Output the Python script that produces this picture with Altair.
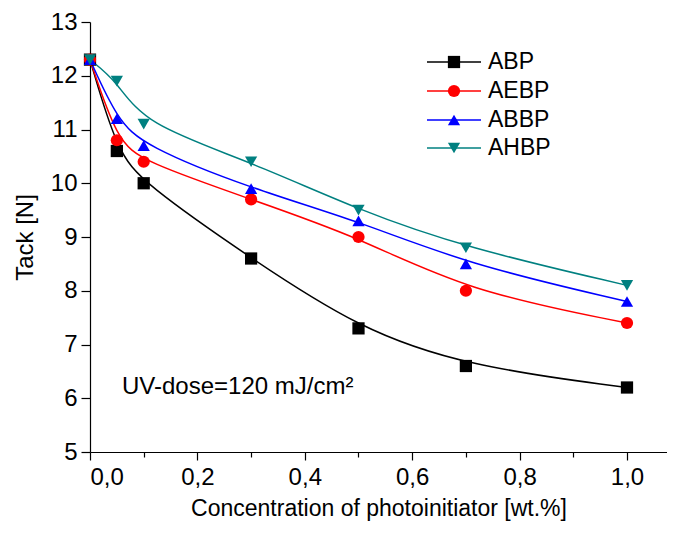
import altair as alt
import pandas as pd

# ---- data ----
conc = [0.0, 0.05, 0.1, 0.3, 0.5, 0.7, 1.0]
series_names = ["ABP", "AEBP", "ABBP", "AHBP"]
abp = [12.3, 10.6, 10.0, 8.6, 7.3, 6.6, 6.2]
aebp = [12.3, 10.8, 10.4, 9.7, 9.0, 8.0, 7.4]
abbp = [12.3, 11.2, 10.7, 9.9, 9.3, 8.5, 7.8]
ahbp = [12.3, 11.9, 11.1, 10.4, 9.5, 8.8, 8.1]
colors = ["#000000", "#ff0000", "#0000ff", "#008080"]
shapes = ["square", "circle", "triangle-up", "triangle-down"]
y_ticks = [5 + 0.5 * i for i in range(17)]
x_ticks = [round(0.1 * i, 1) for i in range(11)]
annotation = ["UV-dose=120 mJ/cm²"]

values = [abp, aebp, abbp, ahbp]
rows = []
for name, vals in zip(series_names, values):
    for c, v in zip(conc, vals):
        rows.append({"series": name, "conc": c, "tack": v})
df = pd.DataFrame(rows)

FONT = "Liberation Sans"
W, H = 577, 430

xscale = alt.Scale(domain=[0, 1.0745], nice=False, zero=False)
yscale = alt.Scale(domain=[5, 13], nice=False, zero=False)
cscale = alt.Scale(domain=series_names, range=colors)
sscale = alt.Scale(domain=series_names, range=shapes)

xaxis = alt.Axis(
    values=x_ticks,
    labelExpr="round(datum.value*10) % 2 === 0 ? replace(format(datum.value, '.1f'), '.', ',') : ''",
    tickSize={"condition": {"test": "round(datum.value*10) % 2 === 0", "value": 8}, "value": 5},
    grid=False, labelFontSize=24, titleFontSize=23, labelPadding=5, titlePadding=8,
    title="Concentration of photoinitiator [wt.%]",
)
yaxis = alt.Axis(
    values=y_ticks,
    labelExpr="datum.value % 1 === 0 ? format(datum.value, 'd') : ''",
    tickSize={"condition": {"test": "datum.value % 1 === 0", "value": 9}, "value": 5},
    grid=False, labelFontSize=24, titleFontSize=24, labelPadding=4, titlePadding=13,
    title="Tack [N]",
)

base = alt.Chart(df)
lines = base.mark_line(interpolate="basis", strokeWidth=1.5).encode(
    x=alt.X("conc:Q", scale=xscale, axis=xaxis),
    y=alt.Y("tack:Q", scale=yscale, axis=yaxis),
    color=alt.Color("series:N", scale=cscale, legend=None),
    detail="series:N",
)
points = base.mark_point(filled=True, opacity=1, size=150).encode(
    x=alt.X("conc:Q", scale=xscale),
    y=alt.Y("tack:Q", scale=yscale),
    color=alt.Color("series:N", scale=cscale, legend=None),
    shape=alt.Shape("series:N", scale=sscale, legend=None),
)

layers = [lines, points]

# manual legend (line + symbol + label)
leg_y = [40, 69, 98, 126]
for i, name in enumerate(series_names):
    d = pd.DataFrame({"name": [name]})
    c = alt.Chart(d)
    layers.append(c.mark_rule(strokeWidth=1.5).encode(
        x=alt.value(337), x2=alt.value(391), y=alt.value(leg_y[i]),
        color=alt.value(colors[i])))
    layers.append(c.mark_point(filled=True, opacity=1, size=150).encode(
        x=alt.value(364), y=alt.value(leg_y[i]),
        shape=alt.value(shapes[i]), color=alt.value(colors[i])))
    layers.append(c.mark_text(align="left", baseline="middle", fontSize=23, font=FONT).encode(
        x=alt.value(398), y=alt.value(leg_y[i]), text="name:N",
        color=alt.value("#000000")))

ann = alt.Chart(pd.DataFrame({"t": annotation})).mark_text(
    align="left", baseline="middle", fontSize=24, font=FONT
).encode(x=alt.value(32), y=alt.value(365), text="t:N", color=alt.value("#000000"))
layers.append(ann)

chart = alt.layer(*layers).properties(
    width=W, height=H,
    autosize=alt.AutoSizeParams(type="none"),
    padding={"left": 82, "top": 14, "right": 0, "bottom": 73},
).configure_view(stroke=None).configure_axis(
    domainColor="#000000", tickColor="#000000", labelColor="#000000",
    titleColor="#000000", labelFont=FONT, titleFont=FONT,
    titleFontWeight="normal", domainWidth=1.2, tickWidth=1.2,
)

chart.save("out.html", embed_options={"renderer": "svg", "actions": False})
